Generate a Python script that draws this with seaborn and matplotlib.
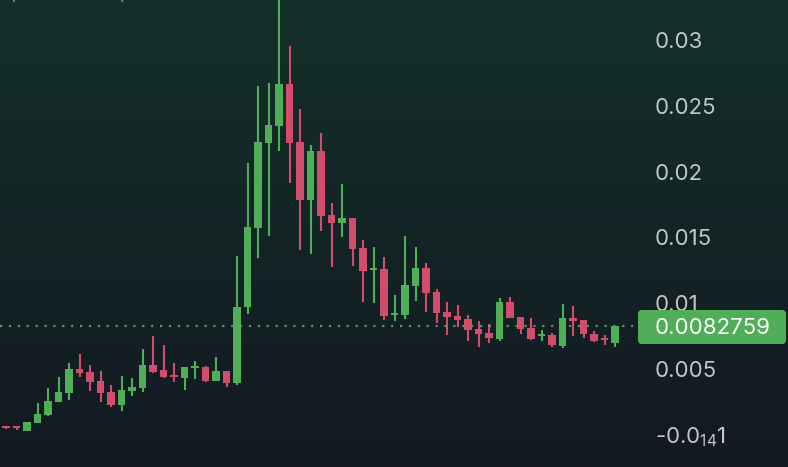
import numpy as np
import matplotlib
matplotlib.use("Agg")
import matplotlib.pyplot as plt
from matplotlib.patches import FancyBboxPatch
import seaborn as sns

# OHLC values (59 candles)
opens = [0.00063, 0.00059, 0.00029, 0.00090, 0.00150, 0.00249, 0.00318, 0.00500, 0.00477, 0.00409,
         0.00325, 0.00226, 0.00333, 0.00356, 0.00530, 0.00492, 0.00454, 0.00432, 0.00508, 0.00515,
         0.00409, 0.00485, 0.00394, 0.00971, 0.01571, 0.02217, 0.02347, 0.02666, 0.02225, 0.01784,
         0.02157, 0.01670, 0.01609, 0.01647, 0.01420, 0.01252, 0.01260, 0.00910, 0.00910, 0.01131,
         0.01268, 0.01085, 0.00933, 0.00903, 0.00880, 0.00804, 0.00774, 0.00728, 0.01009, 0.00895,
         0.00812, 0.00751, 0.00758, 0.00675, 0.00888, 0.00872, 0.00766, 0.00736, 0.00698]
closes = [0.00055, 0.00052, 0.00097, 0.00158, 0.00257, 0.00325, 0.00500, 0.00470, 0.00401, 0.00318,
          0.00226, 0.00340, 0.00363, 0.00530, 0.00477, 0.00439, 0.00439, 0.00515, 0.00523, 0.00409,
          0.00485, 0.00394, 0.00971, 0.01579, 0.02225, 0.02354, 0.02666, 0.02217, 0.01784, 0.02157,
          0.01663, 0.01609, 0.01647, 0.01412, 0.01245, 0.01268, 0.00903, 0.00926, 0.01138, 0.01268,
          0.01078, 0.00926, 0.00895, 0.00872, 0.00796, 0.00766, 0.00736, 0.01009, 0.00888, 0.00804,
          0.00728, 0.00766, 0.00682, 0.00888, 0.00865, 0.00766, 0.00713, 0.00720, 0.0082759]
highs = [0.00067, 0.00062, 0.00097, 0.00242, 0.00356, 0.00439, 0.00546, 0.00614, 0.00530, 0.00485,
         0.00378, 0.00447, 0.00432, 0.00652, 0.00751, 0.00682, 0.00546, 0.00515, 0.00561, 0.00523,
         0.00591, 0.00485, 0.01359, 0.02065, 0.02651, 0.02673, 0.03350, 0.02955, 0.02476, 0.02202,
         0.02293, 0.01761, 0.01906, 0.01647, 0.01480, 0.01427, 0.01351, 0.01062, 0.01511, 0.01427,
         0.01305, 0.01108, 0.01009, 0.00986, 0.00910, 0.00865, 0.00842, 0.01040, 0.01047, 0.00895,
         0.00888, 0.00796, 0.00774, 0.00994, 0.00979, 0.00872, 0.00789, 0.00758, 0.0082759]
lows = [0.00044, 0.00036, 0.00029, 0.00090, 0.00143, 0.00249, 0.00264, 0.00439, 0.00333, 0.00249,
        0.00211, 0.00181, 0.00295, 0.00325, 0.00470, 0.00432, 0.00401, 0.00340, 0.00424, 0.00401,
        0.00409, 0.00363, 0.00380, 0.00918, 0.01343, 0.01511, 0.02157, 0.01913, 0.01404, 0.01374,
        0.01549, 0.01275, 0.01503, 0.01283, 0.01009, 0.01002, 0.00872, 0.00865, 0.00880, 0.01017,
        0.00933, 0.00850, 0.00758, 0.00819, 0.00713, 0.00667, 0.00698, 0.00713, 0.00888, 0.00766,
        0.00720, 0.00713, 0.00667, 0.00660, 0.00751, 0.00736, 0.00705, 0.00682, 0.00667]

last_price = 0.0082759
y_ticks = [0.03, 0.025, 0.02, 0.015, 0.01, 0.005, 0.0]
y_labels = ["0.03", "0.025", "0.02", "0.015", "0.01", "0.005", r"-0.0$\mathregular{_{14}}$1"]

GREEN = "#4fae57"
RED = "#d24c6c"

sns.set_theme(style="dark")
plt.rcParams['font.family'] = ['Inter', 'DejaVu Sans']
plt.rcParams['mathtext.fontset'] = 'custom'
plt.rcParams['mathtext.rm'] = 'Inter'

fig = plt.figure(figsize=(7.88, 4.67), dpi=100)

# background gradient (dark green top -> dark navy bottom)
bg = fig.add_axes([0, 0, 1, 1], zorder=0)
top = np.array([0x14, 0x30, 0x2a]) / 255
bot = np.array([0x13, 0x19, 0x22]) / 255
t = np.linspace(0, 1, 256)[:, None, None]
grad = top * (1 - t) + bot * t
grad = np.repeat(grad, 2, axis=1)
bg.imshow(grad, aspect="auto", extent=[0, 1, 0, 1])
bg.axis("off")

# main candle axes
ax = fig.add_axes([0, 0, 645 / 788, 1], zorder=1)
ax.set_facecolor("none")
x = np.arange(len(opens))
o = np.array(opens)
c = np.array(closes)
up = c >= o
colors = np.where(up, GREEN, RED)

ax.vlines(x, lows, highs, colors=colors, linewidth=1.5)
body_bottom = np.minimum(o, c)
body_h = np.maximum(np.abs(c - o), 0.00015)
ax.bar(x, body_h, bottom=body_bottom, width=0.76, color=colors, linewidth=0)

ax.axhline(last_price, xmin=0, xmax=638 / 645, color=GREEN, linewidth=1.6,
           linestyle=(0, (1, 3)), alpha=0.9)

ax.set_xlim(-6 / 10.5, (645 - 6) / 10.5)
ax.set_ylim(-0.002447, 0.03304)
ax.set_xticks([])
ax.yaxis.tick_right()
ax.set_yticks(y_ticks)
ax.set_yticklabels(y_labels)
ax.tick_params(axis="y", length=0, pad=7.2, labelsize=16, labelcolor="#c3c7cc")
ax.grid(False)
for s in ax.spines.values():
    s.set_visible(False)

# overlay in pixel coordinates: price tag + clipped legend brackets at the top
ov = fig.add_axes([0, 0, 1, 1], zorder=2)
ov.set_xlim(0, 788)
ov.set_ylim(467, 0)
ov.axis("off")
ov.add_patch(FancyBboxPatch((638, 310), 148, 34, boxstyle="round,pad=0,rounding_size=4",
                            facecolor=GREEN, edgecolor="none"))
ov.text(655, 327.5, f"{last_price}", color="white", fontsize=16, va="center", ha="left")
ov.text(9, -1, "(", color=GREEN, fontsize=14, va="baseline", ha="left")
ov.text(119, -1, ")", color=GREEN, fontsize=14, va="baseline", ha="left")

fig.savefig("out.png", dpi=100)
